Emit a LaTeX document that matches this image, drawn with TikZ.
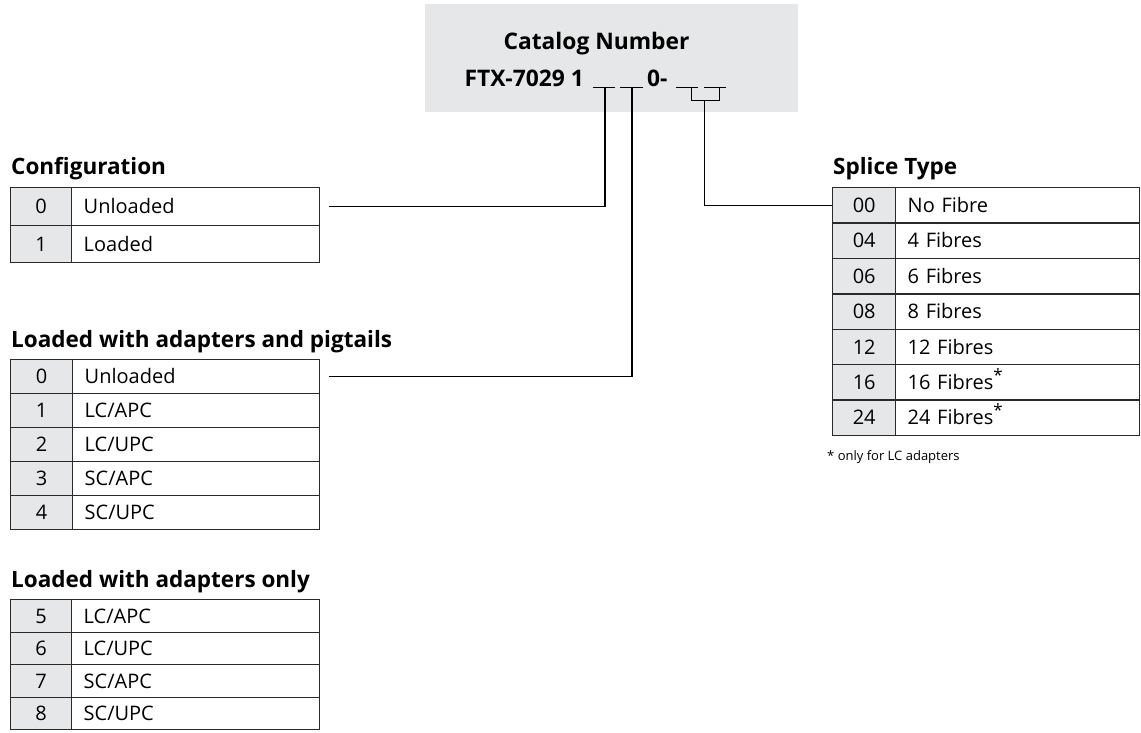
\documentclass[tikz,border=0pt]{standalone}
\usepackage{fontspec}
\setmainfont{Open Sans}
\definecolor{boxgray}{HTML}{E6E7E8}
\definecolor{cellgray}{HTML}{E6E7E8}
\definecolor{rulec}{HTML}{2A2A2A}
\begin{document}
\begin{tikzpicture}[x=1pt,y=-1pt,
  cellbase/.style={draw=rulec, line width=1.4pt, anchor=north west, inner sep=0pt,
    font=\fontsize{20}{24}\selectfont, text height=14.2pt, text depth=0pt},
  numcell/.style={cellbase, fill=cellgray},
  txtcell/.style={cellbase, fill=white, inner xsep=12pt, align=left},
  heading/.style={anchor=base west, inner sep=0pt, font=\fontsize{22.5}{26}\selectfont\bfseries},
  titlefont/.style={font=\fontsize{22.8}{26}\selectfont\bfseries, inner sep=0pt},
  conn/.style={draw=black, line width=1.1pt},
  ulmark/.style={draw=black, line width=1pt}
]
\useasboundingbox (0,0) rectangle (1141,733);

% Catalog number box
\node[fill=boxgray, minimum width=373, minimum height=108, anchor=north west, inner sep=0pt] (catbox) at (425,4) {};
\node[titlefont, anchor=base] (cattitle) at (596.5,50) {Catalog Number};
\node[titlefont, anchor=base east] (ftx) at (584,87) {FTX-7029 1};
\node[titlefont, anchor=base west] (zero) at (647,87) {0-};

% underlines
\coordinate (ua1) at (593,88); \coordinate (ub1) at (615,88);
\coordinate (ua2) at (620,88); \coordinate (ub2) at (643,88);
\coordinate (ua3) at (676,88); \coordinate (ub3) at (698,88);
\coordinate (ua4) at (704,88); \coordinate (ub4) at (726,88);
\draw[ulmark] (ua1) -- (ub1);
\draw[ulmark] (ua2) -- (ub2);
\draw[ulmark] (ua3) -- (ub3);
\draw[ulmark] (ua4) -- (ub4);
\coordinate (v1) at (605,88);
\coordinate (v2) at (632,88);
\coordinate (bl) at (691,88);
\coordinate (br) at (719,88);
\coordinate (bm) at (704.5,101);
\draw[ulmark] (bl) |- (br |- bm) -- (br);

% Configuration
\node[heading] (hcfg) at (11,175) {Configuration};
\foreach \n/\t [count=\i from 0] in {0/Unloaded,1/Loaded} {
  \node[numcell, minimum width=61, minimum height=37.5] (cfgn\i) at (10,{187+\i*37.5}) {\n};
  \node[txtcell, minimum width=248, text width=224, minimum height=37.5] (cfgt\i) at (71,{187+\i*37.5}) {\t};
}

% Loaded with adapters and pigtails
\node[heading] (hpig) at (11,347) {Loaded with adapters and pigtails};
\foreach \n/\t [count=\i from 0] in {0/Unloaded,1/LC\slash APC,2/LC\slash UPC,3/SC\slash APC,4/SC\slash UPC} {
  \node[numcell, minimum width=62, minimum height=34] (pign\i) at (10,{359+\i*34}) {\n};
  \node[txtcell, minimum width=247, text width=223, minimum height=34] (pigt\i) at (72,{359+\i*34}) {\t};
}

% Loaded with adapters only
\node[heading] (hada) at (11,587) {Loaded with adapters only};
\foreach \n/\t [count=\i from 0] in {5/LC\slash APC,6/LC\slash UPC,7/SC\slash APC,8/SC\slash UPC} {
  \node[numcell, minimum width=61, minimum height=32.5] (adan\i) at (10,{599+\i*32.5}) {\n};
  \node[txtcell, minimum width=248, text width=224, minimum height=32.5] (adat\i) at (71,{599+\i*32.5}) {\t};
}

% Splice type
\node[heading] (hspl) at (833,175) {Splice Type};
\foreach \n/\t [count=\i from 0] in {00/No Fibre,04/4 Fibres,06/6 Fibres,08/8 Fibres,12/12 Fibres,16/16 Fibres\raisebox{0.4em}{\fontsize{17}{17}\selectfont*},24/24 Fibres\raisebox{0.4em}{\fontsize{17}{17}\selectfont*}} {
  \node[numcell, minimum width=63, minimum height=35.4] (spln\i) at (832,{187+\i*35.4}) {\n};
  \node[txtcell, minimum width=244, text width=220, minimum height=35.4] (splt\i) at (895,{187+\i*35.4}) {\t};
}
\node[anchor=west, inner sep=0pt, font=\fontsize{13}{15}\selectfont] (foot) at (827,457) {* only for LC adapters};

% connectors
\draw[conn] (v1) |- ([xshift=9pt]cfgt0.east);
\draw[conn] (v2) |- ([xshift=9pt]pigt0.east);
\draw[conn] (bm) |- (spln0.west);
\end{tikzpicture}
\end{document}
